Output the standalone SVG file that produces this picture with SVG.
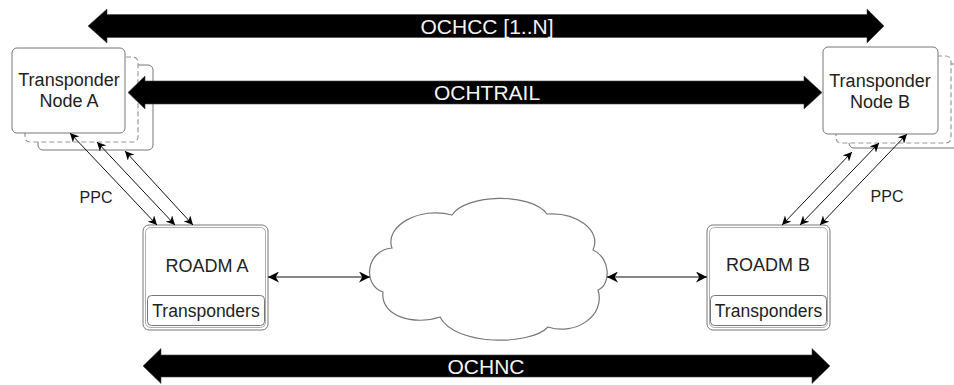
<svg xmlns="http://www.w3.org/2000/svg" width="954" height="385" viewBox="0 0 954 385">
<style>
.box{fill:#fff;stroke:#777;stroke-width:1}
.dash{fill:#fff;stroke:#999;stroke-width:1.2;stroke-dasharray:5 3}
.t{font-family:"Liberation Sans",Arial,sans-serif;fill:#222;text-anchor:middle}
.big{font-family:"Liberation Sans",Arial,sans-serif;fill:#f4f4f4;text-anchor:middle;font-size:21px}
.thin{stroke:#111;stroke-width:1;fill:none}
.fat{fill:#000;stroke:#444;stroke-width:0.6}
</style>
<defs>
<marker id="ah" viewBox="0 0 10 10" refX="10" refY="5" markerWidth="9" markerHeight="9" markerUnits="userSpaceOnUse" orient="auto-start-reverse">
<path d="M0,0 L10,5 L0,10 L3,5 Z" fill="#000"/>
</marker>
<marker id="ah2" viewBox="0 0 10 10" refX="10" refY="5" markerWidth="12" markerHeight="11" markerUnits="userSpaceOnUse" orient="auto-start-reverse">
<path d="M0,0 L10,5 L0,10 L3,5 Z" fill="#000"/>
</marker>
</defs>
<rect width="954" height="385" fill="#fff"/>

<g id="node-transponder-a">
<rect class="box" x="38" y="65" width="115" height="85" rx="5"/>
<rect class="dash" x="25" y="57" width="113" height="85" rx="5"/>
<rect class="box" x="12" y="48" width="113" height="85" rx="5"/>
<text class="t" font-size="18" x="69" y="86">Transponder</text>
<text class="t" font-size="18" x="69" y="107">Node A</text>
</g>

<g id="node-transponder-b">
<rect class="box" x="849" y="64" width="115" height="84" rx="5"/>
<rect class="dash" x="836" y="56" width="115" height="87" rx="5"/>
<rect class="box" x="823" y="47" width="115" height="87" rx="5"/>
<text class="t" font-size="18" x="880" y="87">Transponder</text>
<text class="t" font-size="18" x="880" y="108">Node B</text>
</g>

<g id="node-roadm-a">
<rect class="box" x="143" y="225" width="125" height="105" rx="6"/>
<rect fill="none" stroke="#999" stroke-width="0.8" x="145.5" y="227.5" width="120" height="100" rx="5"/>
<text class="t" font-size="18" x="207" y="272">ROADM A</text>
<rect class="box" x="147.5" y="295.5" width="117" height="30" rx="4"/>
<text class="t" font-size="17.5" x="206" y="317">Transponders</text>
</g>

<g id="node-roadm-b">
<rect class="box" x="707" y="225" width="123" height="105" rx="6"/>
<rect fill="none" stroke="#999" stroke-width="0.8" x="709.5" y="227.5" width="118" height="100" rx="5"/>
<text class="t" font-size="18" x="768" y="271">ROADM B</text>
<rect class="box" x="710.5" y="295.5" width="116" height="30" rx="4"/>
<text class="t" font-size="17.5" x="768.5" y="317">Transponders</text>
</g>

<g id="node-cloud">
<path fill="#fff" stroke="#777" stroke-width="1.2" d="M392 248 C384 226,420 206,452 215 C466 194,530 192,547 214 C576 212,602 230,593 250 C611 258,611 285,598 290 C606 316,575 336,548 327 C530 346,455 346,440 317 C414 326,380 316,383 292 C362 285,366 250,392 248 Z"/>
</g>

<g id="connectors">
<polygon class="fat" points="88,26 107,9 107,14.5 867,14.5 867,9 884,26 867,43 867,37.5 107,37.5 107,43"/>
<text class="big" x="487" y="33.5">OCHCC [1..N]</text>
<polygon class="fat" points="128,92.5 145,76 145,81 804,81 804,76 822,92.5 804,109 804,104 145,104 145,109"/>
<text class="big" x="487" y="100">OCHTRAIL</text>
<polygon class="fat" points="143,366 161,348.5 161,355 812,355 812,348.5 830,366 812,383.5 812,377 161,377 161,383.5"/>
<text class="big" x="486" y="373.5">OCHNC</text>

<line class="thin" x1="70" y1="133" x2="157" y2="225" marker-start="url(#ah)" marker-end="url(#ah)"/>
<line class="thin" x1="97" y1="142" x2="175" y2="225" marker-start="url(#ah)" marker-end="url(#ah)"/>
<line class="thin" x1="125" y1="151" x2="193" y2="225" marker-start="url(#ah)" marker-end="url(#ah)"/>
<text class="t" font-size="16" x="96" y="203">PPC</text>

<line class="thin" x1="852" y1="152" x2="782" y2="225" marker-start="url(#ah)" marker-end="url(#ah)"/>
<line class="thin" x1="879" y1="143" x2="800" y2="225" marker-start="url(#ah)" marker-end="url(#ah)"/>
<line class="thin" x1="907" y1="134" x2="820" y2="225" marker-start="url(#ah)" marker-end="url(#ah)"/>
<text class="t" font-size="16" x="887" y="202">PPC</text>

<line class="thin" x1="268" y1="277" x2="370" y2="277" marker-start="url(#ah2)" marker-end="url(#ah2)"/>
<line class="thin" x1="607" y1="277" x2="707" y2="277" marker-start="url(#ah2)" marker-end="url(#ah2)"/>
</g>
</svg>
